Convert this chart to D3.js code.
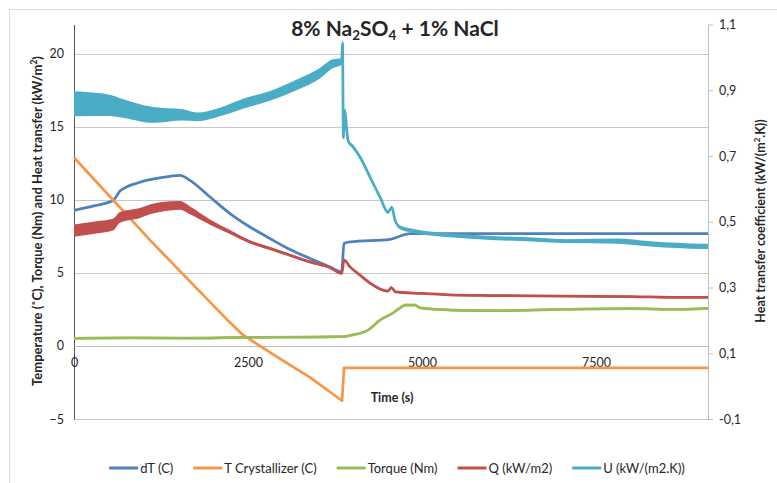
<!DOCTYPE html>
<html>
<head>
<meta charset="utf-8">
<script src="https://cdn.jsdelivr.net/npm/d3@7"></script>
<style>
  body { margin: 0; background: #fff; }
  text { font-family: Lato, "Open Sans", sans-serif; fill: #262626; }
</style>
</head>
<body>
<div id="chart"></div>
<script>
// time stamps (s) and values
const dTTime = [0, 300, 560, 661, 948, 1236, 1523, 1667, 1954, 2241, 2529, 2816, 3103, 3391, 3678, 3846, 3879, 3966, 4540, 4830, 6000, 7500, 9109];
const dTVal = [9.28, 9.6, 9.95, 10.6, 11.2, 11.5, 11.67, 11.33, 10.19, 9.06, 8.14, 7.35, 6.6, 5.99, 5.41, 5.07, 7.01, 7.12, 7.3, 7.69, 7.69, 7.69, 7.69];

const tCrystTime = [0, 1092, 1763, 2200, 2428, 2917, 3391, 3851, 3880, 5000, 7500, 9109];
const tCrystVal = [12.9, 7.24, 3.94, 1.8, 0.75, -0.75, -2.15, -3.75, -1.5, -1.5, -1.5, -1.5];

const torqueTime = [0, 800, 1600, 2400, 3200, 3850, 4000, 4230, 4400, 4580, 4684, 4760, 4900, 4971, 5402, 6000, 7000, 8000, 8660, 9109];
const torqueVal = [0.52, 0.55, 0.53, 0.58, 0.6, 0.63, 0.75, 1.1, 1.78, 2.25, 2.6, 2.8, 2.8, 2.6, 2.46, 2.41, 2.5, 2.55, 2.5, 2.57];
const torqueNoise = [0.08, 0.08, 0.08, 0.08, 0.08, 0.08, 0.08, 0.08, 0.08, 0.08, 0.08, 0.08, 0.08, 0.08, 0.08, 0.08, 0.08, 0.08, 0.08, 0.08];

const qTime = [0, 300, 560, 661, 948, 1092, 1236, 1523, 1667, 1954, 2241, 2529, 2816, 3103, 3391, 3678, 3846, 3880, 3966, 4109, 4253, 4511, 4560, 4620, 4971, 5402, 6000, 7000, 8000, 8660, 9109];
const qVal = [7.9, 8.1, 8.3, 8.8, 9.1, 9.35, 9.5, 9.62, 9.28, 8.48, 7.8, 7.12, 6.67, 6.21, 5.75, 5.37, 4.96, 5.87, 5.41, 4.85, 4.3, 3.75, 4.0, 3.7, 3.6, 3.5, 3.45, 3.41, 3.38, 3.32, 3.32];
const qNoise = [0.42, 0.42, 0.4, 0.36, 0.34, 0.33, 0.33, 0.3, 0.27, 0.18, 0.14, 0.11, 0.1, 0.09, 0.09, 0.09, 0.07, 0.07, 0.07, 0.07, 0.07, 0.07, 0.07, 0.07, 0.06, 0.06, 0.06, 0.06, 0.06, 0.06, 0.06];

const uTime = [0, 517, 661, 1135, 1566, 1767, 2098, 2428, 2816, 3204, 3534, 3721, 3846, 3858, 3870, 3890, 3915, 3940, 4010, 4109, 4253, 4397, 4511, 4565, 4612, 4684, 4828, 4971, 5402, 5876, 6595, 7083, 7802, 8276, 8664, 9037, 9109];
const uVal = [0.859, 0.854, 0.847, 0.825, 0.825, 0.819, 0.834, 0.859, 0.883, 0.917, 0.952, 0.981, 0.987, 1.045, 0.755, 0.84, 0.79, 0.745, 0.728, 0.697, 0.636, 0.575, 0.529, 0.544, 0.505, 0.483, 0.474, 0.468, 0.459, 0.452, 0.446, 0.441, 0.441, 0.433, 0.428, 0.425, 0.425];
const uNoise = [0.038, 0.032, 0.029, 0.024, 0.017, 0.013, 0.013, 0.015, 0.015, 0.016, 0.016, 0.013, 0.01, 0, 0, 0, 0.003, 0.004, 0.005, 0.005, 0.005, 0.005, 0.005, 0.005, 0.005, 0.006, 0.006, 0.006, 0.006, 0.006, 0.006, 0.006, 0.008, 0.008, 0.008, 0.008, 0.008];

const leftTicks = [-5, 0, 5, 10, 15, 20];
const rightTicks = [-0.1, 0.1, 0.3, 0.5, 0.7, 0.9, 1.1];
const timeTicks = [0, 2500, 5000, 7500];

const width = 777,
  height = 483;
const plot = { left: 74, right: 708, top: 24.5, bottom: 419 };

const svg = d3
  .select("#chart")
  .append("svg")
  .attr("width", width)
  .attr("height", height);

// chart area border (runs off the right and bottom edges)
svg
  .append("rect")
  .attr("x", 9.5)
  .attr("y", 9.5)
  .attr("width", 820)
  .attr("height", 520)
  .attr("fill", "none")
  .attr("stroke", "#d9d9d9");

const x = d3.scaleLinear().domain([0, 9109]).range([plot.left, plot.right]);
const yLeft = d3.scaleLinear().domain([-5, 22]).range([plot.bottom, plot.top]);
const yRight = d3.scaleLinear().domain([-0.1, 1.1]).range([plot.bottom, plot.top]);

// gridlines
svg
  .append("g")
  .selectAll("line")
  .data(leftTicks)
  .join("line")
  .attr("x1", plot.left)
  .attr("x2", plot.right)
  .attr("y1", (d) => Math.round(yLeft(d)) + 0.5)
  .attr("y2", (d) => Math.round(yLeft(d)) + 0.5)
  .attr("stroke", "#c8c8c8");

// axes
const leftAxis = svg
  .append("g")
  .attr("transform", `translate(${plot.left},0)`)
  .call(d3.axisLeft(yLeft).tickValues(leftTicks).tickSize(0).tickSizeOuter(0).tickPadding(10));
leftAxis.select(".domain").attr("stroke", "#555");

const rightAxis = svg
  .append("g")
  .attr("transform", `translate(${plot.right},0)`)
  .call(
    d3
      .axisRight(yRight)
      .tickValues(rightTicks)
      .tickSize(5)
      .tickSizeOuter(0)
      .tickPadding(6)
      .tickFormat((d) => d.toFixed(1).replace(".", ","))
  );
rightAxis.select(".domain").attr("stroke", "#bfbfbf");
rightAxis.selectAll(".tick line").attr("stroke", "#bfbfbf");

const timeAxis = svg
  .append("g")
  .attr("transform", `translate(0,${yLeft(0)})`)
  .call(
    d3
      .axisBottom(x)
      .tickValues(timeTicks)
      .tickSize(0)
      .tickSizeOuter(0)
      .tickPadding(12)
      .tickFormat(d3.format("d"))
  );
timeAxis.select(".domain").attr("stroke", "#bfbfbf");

svg.selectAll(".tick text").attr("font-family", "Lato, sans-serif").attr("font-size", 12.5).attr("fill", "#262626");

// series
const series = [
  { name: "dT (C)", color: "#4F81BD", t: dTTime, v: dTVal, y: yLeft, curve: d3.curveMonotoneX },
  { name: "T Crystallizer (C)", color: "#F79646", t: tCrystTime, v: tCrystVal, y: yLeft, curve: d3.curveLinear },
  { name: "Torque (Nm)", color: "#9BBB59", t: torqueTime, v: torqueVal, s: torqueNoise, y: yLeft, curve: d3.curveMonotoneX },
  { name: "Q (kW/m2)", color: "#C0504D", t: qTime, v: qVal, s: qNoise, y: yLeft, curve: d3.curveMonotoneX },
  { name: "U (kW/(m2.K))", color: "#4BACC6", t: uTime, v: uVal, s: uNoise, y: yRight, curve: d3.curveMonotoneX },
];

series.forEach((sr) => {
  const pts = sr.t.map((t, i) => ({ t: t, v: sr.v[i], s: sr.s ? sr.s[i] : 0 }));
  const g = svg.append("g");
  if (sr.s) {
    const band = d3
      .area()
      .x((d) => x(d.t))
      .y0((d) => sr.y(d.v - d.s))
      .y1((d) => sr.y(d.v + d.s))
      .curve(sr.curve);
    g.append("path").attr("d", band(pts)).attr("fill", sr.color);
  }
  const line = d3
    .line()
    .x((d) => x(d.t))
    .y((d) => sr.y(d.v))
    .curve(sr.curve);
  g.append("path")
    .attr("d", line(pts))
    .attr("fill", "none")
    .attr("stroke", sr.color)
    .attr("stroke-width", 2.75)
    .attr("stroke-linejoin", "round");
});

// title
const title = svg
  .append("text")
  .attr("x", 395)
  .attr("y", 36)
  .attr("text-anchor", "middle")
  .attr("font-size", 21)
  .attr("font-weight", "bold");
title.append("tspan").text("8% Na");
title.append("tspan").attr("font-size", 13.5).attr("dy", 4).text("2");
title.append("tspan").attr("dy", -4).text("SO");
title.append("tspan").attr("font-size", 13.5).attr("dy", 4).text("4");
title.append("tspan").attr("dy", -4).text(" + 1% NaCl");

// axis titles
const leftTitle = svg
  .append("text")
  .attr("transform", "translate(42,221) rotate(-90)")
  .attr("text-anchor", "middle")
  .attr("font-size", 13)
  .attr("font-weight", "bold");
leftTitle.append("tspan").text("Temperature (˚C), Torque (Nm) and Heat transfer (kW/m");
leftTitle.append("tspan").attr("font-size", 8.5).attr("dy", -5).text("2");
leftTitle.append("tspan").attr("dy", 5).text(")");

const rightTitle = svg
  .append("text")
  .attr("transform", "translate(765,221) rotate(-90)")
  .attr("text-anchor", "middle")
  .attr("font-size", 12.5)
  .attr("font-weight", "bold");
rightTitle.append("tspan").text("Heat transfer coefficient (kW/(m");
rightTitle.append("tspan").attr("font-size", 8).attr("dy", -5).text("2");
rightTitle.append("tspan").attr("dy", 5).text(".K))");

svg
  .append("text")
  .attr("x", 392)
  .attr("y", 402)
  .attr("text-anchor", "middle")
  .attr("font-size", 12.5)
  .attr("font-weight", "bold")
  .text("Time (s)");

// legend
const legend = svg.append("g");
let cursor = 0;
series.forEach((sr) => {
  const item = legend.append("g").attr("transform", `translate(${cursor},0)`);
  item
    .append("line")
    .attr("x1", 0)
    .attr("x2", 29)
    .attr("y1", 0)
    .attr("y2", 0)
    .attr("stroke", sr.color)
    .attr("stroke-width", 3);
  const label = item
    .append("text")
    .attr("x", 31)
    .attr("y", 4.5)
    .attr("font-size", 13)
    .text(sr.name);
  cursor += 31 + label.node().getComputedTextLength() + 20;
});
const legendWidth = cursor - 20;
legend.attr("transform", `translate(${397 - legendWidth / 2},468)`);
</script>
</body>
</html>
